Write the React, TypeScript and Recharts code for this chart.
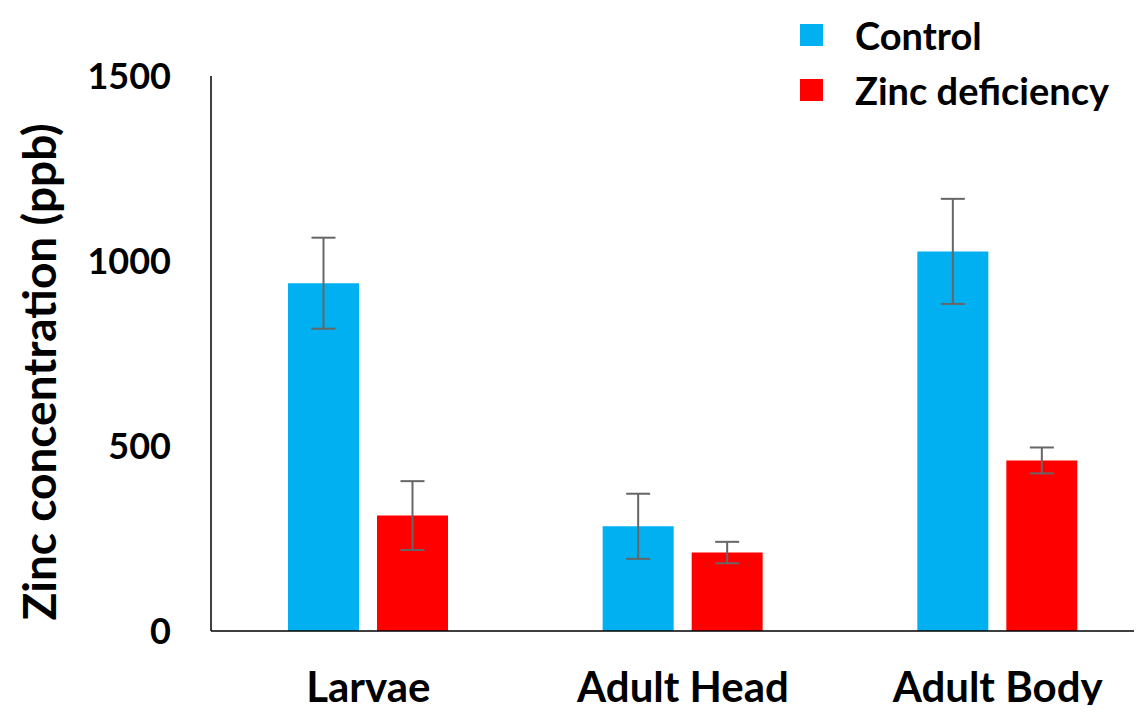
import { BarChart, Bar, XAxis, YAxis, ErrorBar } from "recharts";

const categories = ["Larvae", "Adult Head", "Adult Body"];
const controlValues = [940, 283, 1026];
const controlErrors = [123, 88, 142];
const zincValues = [312, 212, 461];
const zincErrors = [93, 29, 35];
const yTicks = [0, 500, 1000, 1500];

const seriesNames = { control: "Control", zinc: "Zinc deficiency" };
const colors = { control: "#00B0F0", zinc: "#FF0000" };

const data = categories.map((name, i) => ({
    name,
    control: controlValues[i],
    controlErr: controlErrors[i],
    zinc: zincValues[i],
    zincErr: zincErrors[i],
}));

const font = "Lato, 'Open Sans', sans-serif";

function LegendBox() {
    const items: ("control" | "zinc")[] = ["control", "zinc"];
    return (
        <div style={{ position: "absolute", top: 7, left: 800, fontFamily: font, fontWeight: 700 }}>
            {items.map((k) => (
                <div key={k} style={{ display: "flex", alignItems: "center", height: 55 }}>
                    <div style={{ width: 23, height: 22, background: colors[k], marginRight: 32 }} />
                    <span style={{ fontSize: 38, color: "#000" }}>{seriesNames[k]}</span>
                </div>
            ))}
        </div>
    );
}

export default function App() {
    return (
        <div style={{ margin: -8, width: 1142, height: 713, overflow: "hidden", position: "relative", background: "#fff" }}>
            <BarChart
                width={1160}
                height={713}
                data={data}
                margin={{ top: 76, right: 5, left: 0, bottom: 0 }}
                barCategoryGap={77}
                barGap={18}
            >
                <XAxis
                    dataKey="name"
                    axisLine={{ stroke: "#000", strokeWidth: 1.5 }}
                    tickLine={false}
                    tickSize={0}
                    tickMargin={41}
                    height={82}
                    tick={{ fontSize: 42, fontWeight: 700, fill: "#000", fontFamily: font }}
                />
                <YAxis
                    domain={[0, 1500]}
                    ticks={yTicks}
                    width={211}
                    axisLine={{ stroke: "#000", strokeWidth: 1.5 }}
                    tickLine={false}
                    tickSize={0}
                    tickMargin={40}
                    tick={{ fontSize: 36, fontWeight: 700, fill: "#000", fontFamily: font }}
                    label={{
                        value: "Zinc concentration (ppb)",
                        content: () => (
                            <text
                                x={38}
                                y={372}
                                transform="rotate(-90, 38, 372)"
                                textAnchor="middle"
                                dominantBaseline="central"
                                fontSize={46}
                                fontWeight={700}
                                fontFamily={font}
                                fill="#000"
                            >
                                Zinc concentration (ppb)
                            </text>
                        ),
                    }}
                />
                <Bar dataKey="control" name={seriesNames.control} fill={colors.control} isAnimationActive={false}>
                    <ErrorBar dataKey="controlErr" width={12} stroke="#666" strokeWidth={2} />
                </Bar>
                <Bar dataKey="zinc" name={seriesNames.zinc} fill={colors.zinc} isAnimationActive={false}>
                    <ErrorBar dataKey="zincErr" width={12} stroke="#666" strokeWidth={2} />
                </Bar>
            </BarChart>
            <LegendBox />
        </div>
    );
}
